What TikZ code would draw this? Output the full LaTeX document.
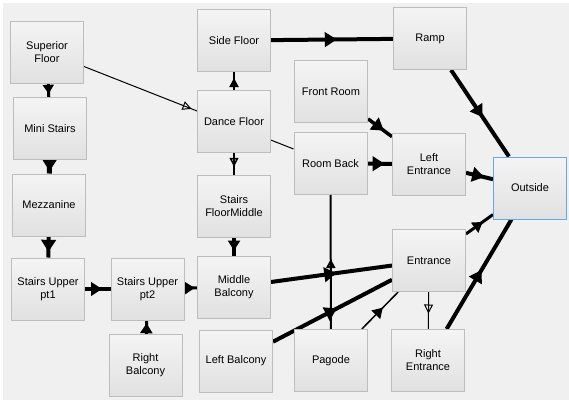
\documentclass[tikz,border=0pt]{standalone}
\usepackage{fontspec}
\setmainfont{Liberation Sans}
\usetikzlibrary{arrows.meta,decorations.markings}
\definecolor{panel}{HTML}{F0F0F0}
\definecolor{boxtop}{HTML}{F4F4F4}
\definecolor{boxbot}{HTML}{E1E1E1}
\definecolor{boxline}{HTML}{BDBDBD}
\definecolor{picked}{HTML}{5EACEE}
\pgfdeclarelayer{back}
\pgfdeclarelayer{links}
\pgfsetlayers{back,links,main}

\begin{document}
\begin{tikzpicture}[x=1pt,y=-1pt,
	room/.style={draw=boxline,line width=1pt,top color=boxtop,bottom color=boxbot,minimum width=73pt,minimum height=62pt,align=center,font=\fontsize{11}{13}\selectfont},
	fwd/.style={postaction={decorate},decoration={markings,mark=at position 0.5 with {\arrow[xshift=0.4*#1]{Triangle[length=#1,width=1.2*#1]}}}},
	hollow/.style={postaction={decorate},decoration={markings,mark=at position 0.5 with {\arrow[xshift=3pt]{Triangle[open,length=9pt,width=9pt]}}}}]
	\useasboundingbox (0,0) rectangle (569,400);
	\begin{pgfonlayer}{back}
		\fill[white] (0,0) rectangle (569,400);
		\fill[panel] (3,3) rectangle (569,400);
	\end{pgfonlayer}
	
		\node[room] (sup) at (47,52) {Superior\\Floor};
		\node[room] (mini) at (50,128.5) {Mini Stairs};
		\node[room] (mezz) at (49,205) {Mezzanine};
		\node[room] (pt1) at (48,289) {Stairs Upper\\pt1};
		\node[room] (pt2) at (147.5,289) {Stairs Upper\\pt2};
		\node[room] (rbal) at (145.5,365.5) {Right\\Balcony};
		\node[room] (side) at (234,40.5) {Side Floor};
		\node[room] (dance) at (234,121.5) {Dance Floor};
		\node[room] (sfm) at (234,206) {Stairs\\FloorMiddle};
		\node[room] (mbal) at (234,287) {Middle\\Balcony};
		\node[room] (lbal) at (236,361) {Left Balcony};
		\node[room] (ramp) at (430,38.5) {Ramp};
		\node[room] (front) at (331,91.5) {Front Room};
		\node[room] (rback) at (330.5,163.5) {Room Back};
		\node[room] (lent) at (429,164) {Left\\Entrance};
		\node[room,draw=picked] (out) at (530,188) {Outside};
		\node[room] (ent) at (429,260.5) {Entrance};
		\node[room] (pag) at (331,360.5) {Pagode};
		\node[room] (rent) at (428,360.5) {Right\\Entrance};
		
	\begin{pgfonlayer}{links}
		\draw[fwd=9pt,line width=3pt] (sup)--(mini);
		\draw[fwd=11pt,line width=5pt] (mini)--(mezz);
		\draw[fwd=12pt,line width=4pt] (mezz)--(pt1);
		\draw[hollow,line width=1pt] (sup)--(rback);
		\draw[hollow,line width=2pt] (dance)--(side);
		\draw[hollow,line width=1.5pt] (dance)--(sfm);
		\draw[fwd=10pt,line width=3.5pt] (sfm)--(mbal);
		\draw[fwd=11pt,line width=4pt] (pt1)--(pt2);
		\draw[fwd=10pt,line width=3pt] (pt2)--(mbal);
		\draw[fwd=10pt,line width=3pt] (rbal)--(pt2);
		\draw[fwd=12pt,line width=4pt] (side)--(ramp);
		\draw[fwd=12pt,line width=4pt] (ramp)--(out);
		\draw[fwd=12pt,line width=3.5pt] (front)--(lent);
		\draw[fwd=12pt,line width=4pt] (rback)--(lent);
		\draw[fwd=12pt,line width=4pt] (lent)--(out);
		\draw[hollow,line width=2pt] (pag)--(rback);
		\draw[fwd=12pt,line width=4pt] (mbal)--(ent);
		\draw[fwd=12pt,line width=4pt] (lbal)--(ent);
		\draw[fwd=10pt,line width=1.5pt] (pag)--(ent);
		\draw[hollow,line width=1pt] (ent)--(rent);
		\draw[fwd=10pt,line width=3pt] (ent)--(out);
		\draw[fwd=12pt,line width=4pt] (rent)--(out);
	\end{pgfonlayer}
\end{tikzpicture}
\end{document}
